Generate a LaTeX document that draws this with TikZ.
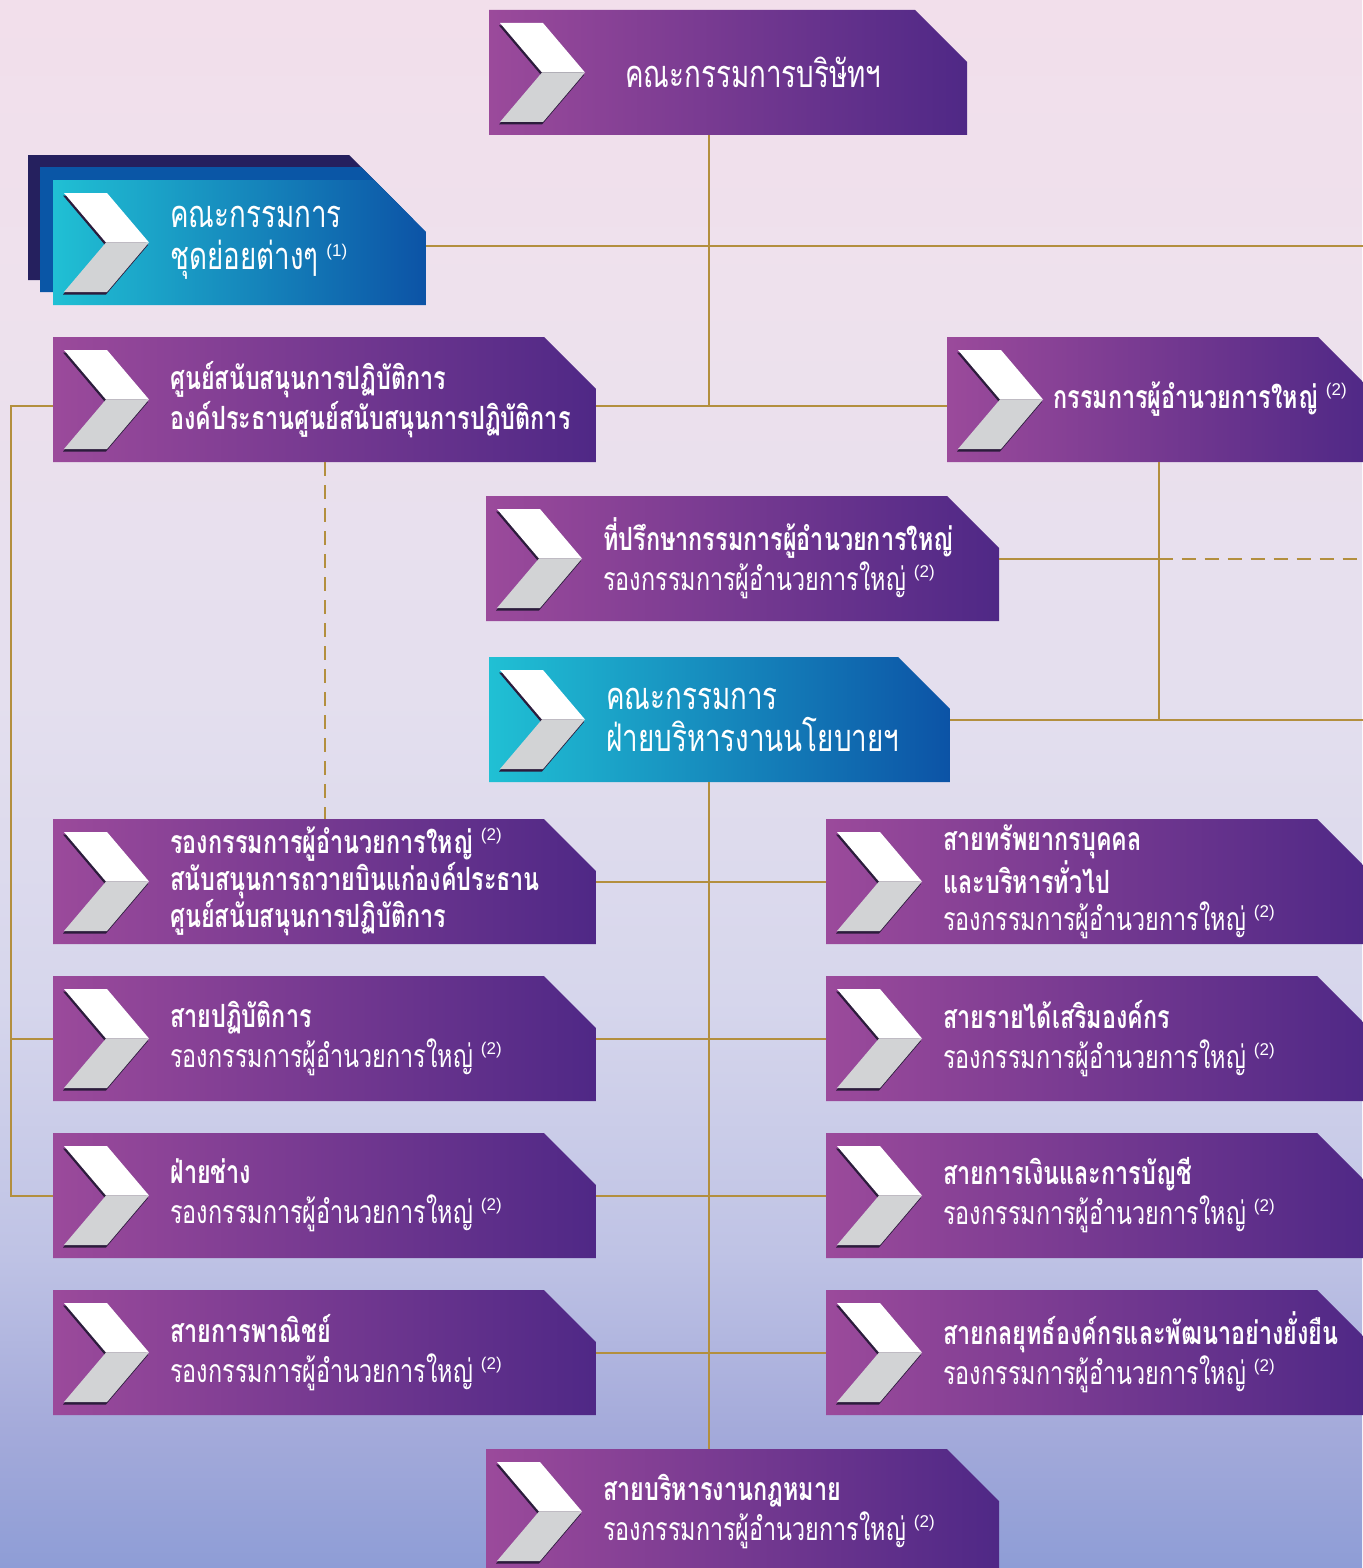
\documentclass[tikz,border=0pt]{standalone}
\usepackage{fontspec}
\newfontfamily\thaifont[Script=Thai,FakeStretch=0.73]{Loma}
\newfontfamily\notefont{Liberation Sans}
\usetikzlibrary{positioning,calc}

\definecolor{plumL}{HTML}{9B4A9B}
\definecolor{plumR}{HTML}{4F2886}
\definecolor{aquaL}{HTML}{20C0D4}
\definecolor{aquaR}{HTML}{0C53A6}
\definecolor{navyback}{HTML}{25205E}
\definecolor{blueback}{HTML}{0A56A6}
\definecolor{chevgray}{HTML}{D2D3D5}
\definecolor{chevshade}{HTML}{2C1C3C}
\definecolor{gold}{HTML}{B38F3E}
\definecolor{bg0}{HTML}{F2DFEB}
\definecolor{bg1}{HTML}{EEE1ED}
\definecolor{bg2}{HTML}{E4DFEE}
\definecolor{bg3}{HTML}{D6D6EC}
\definecolor{bg4}{HTML}{BFC3E5}
\definecolor{bg5}{HTML}{A4AADA}
\definecolor{bg6}{HTML}{8E9DD6}
% the path is fitted to the part 25bp--75bp of the shading
\pgfdeclareverticalshading{skybg}{100bp}{color(0bp)=(bg6); color(25bp)=(bg6); color(29.4bp)=(bg5); color(35.1bp)=(bg4); color(43.1bp)=(bg3); color(52.7bp)=(bg2); color(65.4bp)=(bg1); color(75bp)=(bg0); color(100bp)=(bg0)}

\newcommand\refnote[1]{\hspace{4pt}{\notefont\mdseries\fontsize{8.5}{8.5}\selectfont\raisebox{6.5pt}{(#1)}}}
\newcommand\vicepres{{\mdseries รองกรรมการผู้อำนวยการใหญ่}\refnote{2}}

\begin{document}
\begin{tikzpicture}[x=0.5pt, y=-0.5pt, node distance=16pt,
cutbox/.style 2 args={
% The shape:
rectangle, anchor=north west, minimum height=62.5pt, inner sep=0pt, outer sep=0pt,
% The fill, with the corner cut off:
path picture={
  \shade[left color=#1, right color=#2]
    (path picture bounding box.north west)
    -- ([xshift=-26pt]path picture bounding box.north east)
    -- ([yshift=-26pt]path picture bounding box.north east)
    -- (path picture bounding box.south east)
    -- (path picture bounding box.south west) -- cycle;
}},
box/.style={cutbox={plumL}{plumR}},
cbox/.style={cutbox={aquaL}{aquaR}},
txt/.style={anchor=west, inner sep=0pt, align=left, text=white, font=\thaifont\bfseries\fontsize{16}{20}\selectfont},
txt3/.style={txt, font=\thaifont\bfseries\fontsize{16}{18.5}\selectfont},
bigtxt/.style={txt, font=\thaifont\fontsize{19}{21}\selectfont},
link/.style={draw=gold, line width=1pt},
dashlink/.style={link, dash pattern=on 7pt off 4.5pt},
pics/chevron/.style={code={
  \fill[chevshade] (10,15.5) -- (53,15.5) -- (95,65) -- (53,114.5) -- (10,114.5) -- (52,65) -- cycle;
  \fill[white] (11,13) -- (54,13) -- (96,62.5) -- (53,62.5) -- cycle;
  \fill[chevgray] (53,62.5) -- (96,62.5) -- (54,112) -- (11,112) -- cycle;
}}]

\useasboundingbox (0,0) rectangle (1362,1568);
\shade[shading=skybg] (0,0) rectangle (1362,1568);

% top of the chart
\node (BOD) [box, minimum width=239pt] at (489,10) {};
\node (SUBback) [cutbox={navyback}{navyback}, minimum width=186.5pt] at (28,155) {};
\node (SUBmid) [cutbox={blueback}{blueback}, minimum width=186.5pt] at (40,167) {};
\node (SUB) [cbox, minimum width=186.5pt] at (53,180) {};
\node (OSC) [box, minimum width=271.5pt] at (53,337) {};
\node (CEO) [box, minimum width=211.5pt] at (947,337) {};
\node (ADV) [box, minimum width=256.5pt] at (486,496) {};
\node (EXC) [cbox, minimum width=230.5pt] at (489,657) {};

% the two columns
\node (VSC) [box, minimum width=271.5pt] at (53,819) {};
\node (OPS) [box, minimum width=271.5pt, below=of VSC] {};
\node (ENG) [box, minimum width=271.5pt, below=of OPS] {};
\node (COM) [box, minimum width=271.5pt, below=of ENG] {};
\node (HR) [box, minimum width=271.5pt] at (826,819) {};
\node (REV) [box, minimum width=271.5pt, below=of HR] {};
\node (FIN) [box, minimum width=271.5pt, below=of REV] {};
\node (STR) [box, minimum width=271.5pt, below=of FIN] {};
\node (LEG) [box, minimum width=256.5pt] at (486,1449) {};

\foreach \b in {BOD,SUB,OSC,CEO,ADV,EXC,VSC,OPS,ENG,COM,HR,REV,FIN,STR,LEG}
  \pic at (\b.north west) {chevron};

\node (BODtxt) [bigtxt] at ($(BOD.west)+(136,0)$) {คณะกรรมการบริษัทฯ};
\node (SUBtxt) [bigtxt] at ($(SUB.west)+(117,0)$) {คณะกรรมการ\\ชุดย่อยต่างๆ\refnote{1}};
\node (OSCtxt) [txt] at ($(OSC.west)+(117,0)$) {ศูนย์สนับสนุนการปฏิบัติการ\\องค์ประธานศูนย์สนับสนุนการปฏิบัติการ};
\node (CEOtxt) [txt] at ($(CEO.west)+(106,0)$) {กรรมการผู้อำนวยการใหญ่\refnote{2}};
\node (ADVtxt) [txt] at ($(ADV.west)+(117,0)$) {ที่ปรึกษากรรมการผู้อำนวยการใหญ่\\\vicepres};
\node (EXCtxt) [bigtxt] at ($(EXC.west)+(117,0)$) {คณะกรรมการ\\ฝ่ายบริหารงานนโยบายฯ};
\node (VSCtxt) [txt3] at ($(VSC.west)+(117,0)$) {รองกรรมการผู้อำนวยการใหญ่\refnote{2}\\สนับสนุนการถวายบินแก่องค์ประธาน\\ศูนย์สนับสนุนการปฏิบัติการ};
\node (OPStxt) [txt] at ($(OPS.west)+(117,0)$) {สายปฏิบัติการ\\\vicepres};
\node (ENGtxt) [txt] at ($(ENG.west)+(117,0)$) {ฝ่ายช่าง\\\vicepres};
\node (COMtxt) [txt] at ($(COM.west)+(117,0)$) {สายการพาณิชย์\\\vicepres};
\node (HRtxt) [txt3] at ($(HR.west)+(117,0)$) {สายทรัพยากรบุคคล\\และบริหารทั่วไป\\\vicepres};
\node (REVtxt) [txt] at ($(REV.west)+(117,0)$) {สายรายได้เสริมองค์กร\\\vicepres};
\node (FINtxt) [txt] at ($(FIN.west)+(117,0)$) {สายการเงินและการบัญชี\\\vicepres};
\node (STRtxt) [txt] at ($(STR.west)+(117,0)$) {สายกลยุทธ์องค์กรและพัฒนาอย่างยั่งยืน\\\vicepres};
\node (LEGtxt) [txt] at ($(LEG.west)+(117,0)$) {สายบริหารงานกฎหมาย\\\vicepres};

% connectors
\coordinate (spine) at (709,0);
\coordinate (bus) at (11,0);
\coordinate (rim) at (1366,0);
\coordinate (cline) at (0,406);

\draw[link] (BOD.south -| spine) -- (spine |- cline);
\draw[link] ([yshift=-1.75pt]SUB.east) -- ([yshift=-1.75pt]SUB.east -| rim);
\draw[link] (OSC.east |- cline) -- (CEO.west |- cline);
\draw[link] (OSC.west |- cline) -- (bus |- cline) -- (bus |- ENG.west) -- (ENG.west);
\draw[link] (bus |- OPS.west) -- (OPS.west);
\draw[dashlink] (OSC.south) -- (VSC.north);
\draw[link] (CEO.south) -- (CEO.south |- EXC.east);
\draw[link] (ADV.east) -- (ADV.east -| CEO.south);
\draw[dashlink] (ADV.east -| CEO.south) -- (ADV.east -| rim);
\draw[link] (EXC.east) -- (EXC.east -| rim);
\draw[link] (EXC.south -| spine) -- (LEG.north -| spine);
\foreach \l/\r in {VSC/HR,OPS/REV,ENG/FIN,COM/STR}
  \draw[link] (\l.east) -- (\r.west);
\end{tikzpicture}
\end{document}
